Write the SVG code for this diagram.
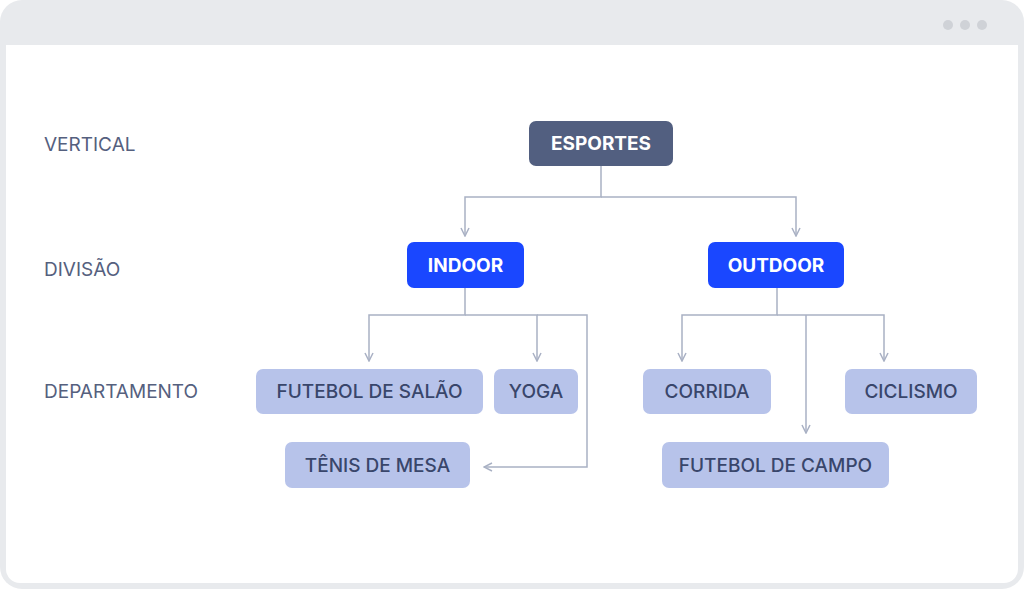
<svg xmlns="http://www.w3.org/2000/svg" width="1024" height="589" viewBox="0 0 1024 589">
<style>
.t{font-family:Inter,"Liberation Sans",sans-serif;font-size:19px;text-anchor:middle;dominant-baseline:central}
.w{fill:#fff;font-weight:700}
.d{fill:#39466b;font-weight:500}
.lab{font-family:Inter,"Liberation Sans",sans-serif;font-size:19px;fill:#55607e;dominant-baseline:central}
.c{fill:none;stroke:#a9b1c4;stroke-width:1.5}
.leaf{fill:#b7c3ea}
</style>
<defs><marker id="a" viewBox="0 0 10 10" refX="9" refY="5" markerWidth="10" markerHeight="10" markerUnits="userSpaceOnUse" orient="auto"><path d="M1,1 L9,5 L1,9" fill="none" stroke="#a9b1c4" stroke-width="1.5"/></marker></defs>
<rect x="0" y="0" width="1024" height="589" rx="22" fill="#e8eaed"/>
<rect x="6" y="45" width="1012" height="538" rx="14" fill="#fff"/>
<rect x="6" y="45" width="1012" height="20" fill="#fff"/>
<circle cx="948" cy="25" r="5" fill="#cfd2d7"/><circle cx="965" cy="25" r="5" fill="#cfd2d7"/><circle cx="982" cy="25" r="5" fill="#cfd2d7"/>
<text class="lab" x="44" y="144">VERTICAL</text>
<text class="lab" x="44" y="269">DIVISÃO</text>
<text class="lab" x="44" y="391">DEPARTAMENTO</text>
<g id="connectors">
<path class="c" d="M601,166 V197 H465 V236" marker-end="url(#a)"/>
<path class="c" d="M601,197 H796 V236" marker-end="url(#a)"/>
<path class="c" d="M465,288 V315 H369 V361" marker-end="url(#a)"/>
<path class="c" d="M465,315 H537 V361" marker-end="url(#a)"/>
<path class="c" d="M537,315 H587 V467 H484" marker-end="url(#a)"/>
<path class="c" d="M777,288 V315 H682 V361" marker-end="url(#a)"/>
<path class="c" d="M777,315 H884 V361" marker-end="url(#a)"/>
<path class="c" d="M806,315 V433" marker-end="url(#a)"/>
</g>
<g id="esportes"><rect x="529" y="121" width="144" height="45" rx="7" fill="#525f80"/><text class="t w" x="601" y="143.5">ESPORTES</text></g>
<g id="indoor"><rect x="407" y="242" width="117" height="46" rx="7" fill="#1a47ff"/><text class="t w" x="465.5" y="265">INDOOR</text></g>
<g id="outdoor"><rect x="708" y="242" width="136" height="46" rx="7" fill="#1a47ff"/><text class="t w" x="776" y="265">OUTDOOR</text></g>
<g id="futsal"><rect class="leaf" x="256" y="369" width="227" height="45" rx="7"/><text class="t d" x="369.5" y="391.5">FUTEBOL DE SALÃO</text></g>
<g id="yoga"><rect class="leaf" x="494" y="369" width="84" height="45" rx="7"/><text class="t d" x="536" y="391.5">YOGA</text></g>
<g id="tenis"><rect class="leaf" x="285" y="442" width="185" height="46" rx="7"/><text class="t d" x="377.5" y="465">TÊNIS DE MESA</text></g>
<g id="corrida"><rect class="leaf" x="643" y="369" width="128" height="45" rx="7"/><text class="t d" x="707" y="391.5">CORRIDA</text></g>
<g id="ciclismo"><rect class="leaf" x="845" y="369" width="132" height="45" rx="7"/><text class="t d" x="911" y="391.5">CICLISMO</text></g>
<g id="campo"><rect class="leaf" x="662" y="442" width="227" height="46" rx="7"/><text class="t d" x="775.5" y="465">FUTEBOL DE CAMPO</text></g>
</svg>
